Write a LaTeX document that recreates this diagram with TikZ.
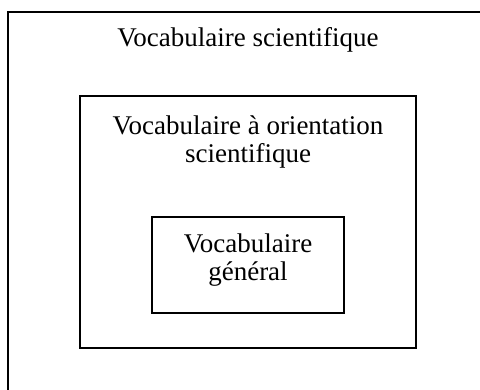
\documentclass[tikz,border=0pt]{standalone}
\usepackage{fontspec}
\setmainfont{Liberation Serif}
\begin{document}
\begin{tikzpicture}[x=1pt,y=-1pt,
  frame/.style={draw=black,line width=1.4pt,rectangle,inner sep=0pt},
  lbl/.style={font=\fontsize{27}{28}\selectfont,align=center,inner sep=0pt,anchor=base}]
\useasboundingbox (0,0) rectangle (480,390);
\coordinate (otr) at (480,12);
\coordinate (otl) at (8,12);
\coordinate (obl) at (8,390);
\draw[line width=1.4pt] (otr) -- (otl) -- (obl);
\node[frame,minimum width=336pt,minimum height=252pt] (mid) at (248,222) {};
\node[frame,minimum width=192pt,minimum height=96pt] (inn) at (248,265) {};
\node[lbl] (t1) at (248,47) {Vocabulaire scientifique};
\node[lbl] (t2) at (248,163) {Vocabulaire à orientation\\scientifique};
\node[lbl] (t3) at (248,281) {Vocabulaire\\général};
\end{tikzpicture}
\end{document}
